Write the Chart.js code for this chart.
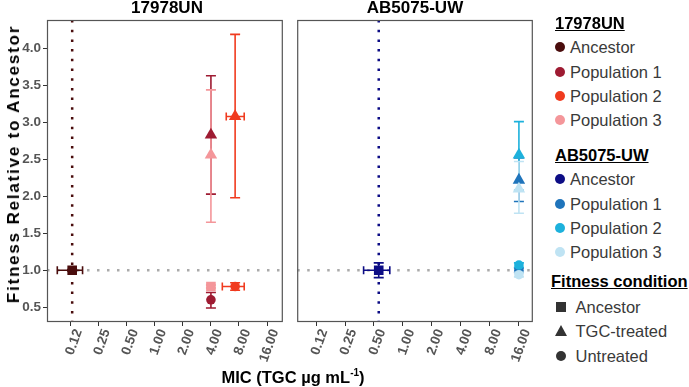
<!DOCTYPE html>
<html>
<head>
<meta charset="utf-8">
<script src="https://cdn.jsdelivr.net/npm/chart.js@4.4.1/dist/chart.umd.min.js"></script>
<style>
  body { margin: 0; background: #fff; font-family: "Liberation Sans", Arial, sans-serif; }
  #page { position: relative; width: 689px; height: 387px; overflow: hidden; background: #fff; }
  .panel { position: absolute; top: 0; height: 387px; }
  .strip { position: absolute; top: -1px; line-height: 17px; font-size: 17px; font-weight: bold; color: #000; transform: translateX(-50%); white-space: nowrap; }
  #ytitle { position: absolute; left: 14px; top: 164px; font-size: 17px; font-weight: bold; letter-spacing: 1.8px; white-space: nowrap;
            transform: translate(-50%, -50%) rotate(-90deg); }
  #xtitle { position: absolute; left: 293px; top: 377px; font-size: 16.5px; font-weight: bold; white-space: nowrap; transform: translate(-50%, -50%); }
  #xtitle sup { font-size: 10px; }
  .lg-head { position: absolute; font-size: 16.5px; font-weight: bold; text-decoration: underline; line-height: 18px; white-space: nowrap; }
  .lg-text { position: absolute; font-size: 16.5px; color: #3a3a3a; line-height: 18px; white-space: nowrap; }
  .lg-mark { position: absolute; }
</style>
</head>
<body>
<div id="page">
  <div class="panel" style="left:0;width:290px"><canvas id="left"></canvas></div>
  <div class="panel" style="left:290px;width:250px"><canvas id="right"></canvas></div>
  <div class="strip" style="left:167px">17978UN</div>
  <div class="strip" style="left:415px">AB5075-UW</div>
  <div id="ytitle">Fitness Relative to Ancestor</div>
  <div id="xtitle">MIC (TGC µg mL<sup>-1</sup>)</div>
  <div id="legend"></div>
</div>
<script>
const micTicks = [0.125, 0.25, 0.5, 1, 2, 4, 8, 16];
const micTickLabels = ['0.12', '0.25', '0.50', '1.00', '2.00', '4.00', '8.00', '16.00'];
const fitnessTicks = [0.5, 1.0, 1.5, 2.0, 2.5, 3.0, 3.5, 4.0];

const populations = ['Ancestor', 'Population 1', 'Population 2', 'Population 3'];
const conditions = ['Ancestor', 'TGC-treated', 'Untreated'];

// 17978UN  (population index, condition index, MIC with range, fitness with range)
const unPop       = [0, 1, 1, 2, 2, 3, 3];
const unCondition = [0, 1, 2, 1, 2, 1, 0];
const unMic       = [0.13, 4, 4, 7.27, 7.27, 4, 4];
const unMicLow    = [0.09, 4, 4, 5.84, 5.3, 4, 4];
const unMicHigh   = [0.168, 4, 4, 9.1, 9.1, 4, 4];
const unFitness   = [1.00, 2.83, 0.60, 3.08, 0.78, 2.56, 0.78];
const unFitLow    = [0.99, 2.03, 0.49, 1.98, 0.73, 1.65, 0.76];
const unFitHigh   = [1.01, 3.63, 0.70, 4.19, 0.83, 3.44, 0.80];

// AB5075-UW
const abPop       = [0, 1, 1, 2, 2, 3, 3];
const abCondition = [0, 1, 2, 1, 2, 1, 2];
const abMic       = [0.56, 16, 16, 16, 16, 16, 16];
const abMicLow    = [0.39, 16, 16, 16, 16, 16, 16];
const abMicHigh   = [0.73, 16, 16, 16, 16, 16, 16];
const abFitness   = [1.00, 2.22, 1.00, 2.56, 1.07, 2.10, 0.94];
const abFitLow    = [0.90, 1.93, 0.97, 2.08, 1.04, 1.77, 0.91];
const abFitHigh   = [1.10, 2.52, 1.03, 3.01, 1.10, 2.47, 0.97];

const unColors = ['#4a0d0d', '#9e1b32', '#f03b1f', '#f4969a'];
const abColors = ['#0d0d85', '#1f74bb', '#1db1dc', '#bfe3f3'];
const shapes = ['rect', 'triangle', 'circle'];
const radii = [6.8, 7.2, 4.8];

const yMin = 0.3, yMax = 4.385;

// draws error bars once, after the guide lines and before the points
const errorBars = {
  id: 'errorBars',
  beforeDraw(chart) { chart.$errDone = false; },
  beforeDatasetDraw(chart, args) {
    const ds = chart.data.datasets[args.index];
    if (!ds.err || chart.$errDone) return;
    chart.$errDone = true;
    const xs = chart.scales.x, ys = chart.scales.y, ctx = chart.ctx;
    ctx.save();
    ctx.lineWidth = 1.6;
    chart.data.datasets.forEach(d => {
      if (!d.err) return;
      const e = d.err;
      ctx.strokeStyle = d.backgroundColor;
      const px = xs.getPixelForValue(e.mic), py = ys.getPixelForValue(e.fit);
      const lo = ys.getPixelForValue(e.fitLo), hi = ys.getPixelForValue(e.fitHi);
      ctx.beginPath();
      ctx.moveTo(px, lo); ctx.lineTo(px, hi);
      ctx.moveTo(px - 5, lo); ctx.lineTo(px + 5, lo);
      ctx.moveTo(px - 5, hi); ctx.lineTo(px + 5, hi);
      if (e.micLo !== e.micHi) {
        const l = xs.getPixelForValue(e.micLo), r = xs.getPixelForValue(e.micHi);
        ctx.moveTo(l, py); ctx.lineTo(r, py);
        ctx.moveTo(l, py - 4); ctx.lineTo(l, py + 4);
        ctx.moveTo(r, py - 4); ctx.lineTo(r, py + 4);
      }
      ctx.stroke();
    });
    ctx.restore();
  }
};

const panelBorder = {
  id: 'panelBorder',
  afterDraw(chart) {
    const a = chart.chartArea, ctx = chart.ctx;
    ctx.save();
    ctx.strokeStyle = '#555';
    ctx.lineWidth = 1.2;
    ctx.strokeRect(a.left + 0.5, a.top + 0.5, a.width - 1, a.height - 1);
    ctx.restore();
  }
};

function buildPanel(id, pop, cond, mic, micLo, micHi, fit, fitLo, fitHi, colors, xMin, xMax, showY, pad) {
  const datasets = [];
  datasets.push({
    data: [{ x: xMin, y: 1 }, { x: xMax, y: 1 }], showLine: true, pointRadius: 0,
    borderColor: '#aaaaaa', borderWidth: 2.5, borderDash: [2.5, 7.5], order: 10
  });
  const anc = pop.indexOf(0);
  datasets.push({
    data: [{ x: mic[anc], y: yMax }, { x: mic[anc], y: yMin }], showLine: true, pointRadius: 0,
    borderColor: colors[0], borderWidth: 2.5, borderDash: [2.5, 7.2], order: 10
  });
  for (let i = 0; i < mic.length; i++) {
    datasets.push({
      data: [{ x: mic[i], y: fit[i] }],
      pointStyle: shapes[cond[i]], pointRadius: radii[cond[i]], pointHoverRadius: radii[cond[i]],
      backgroundColor: colors[pop[i]], borderColor: colors[pop[i]], borderWidth: 0,
      order: -pop[i],
      err: { mic: mic[i], micLo: micLo[i], micHi: micHi[i], fit: fit[i], fitLo: fitLo[i], fitHi: fitHi[i] }
    });
  }
  return new Chart(document.getElementById(id), {
    type: 'scatter',
    data: { datasets },
    plugins: [errorBars, panelBorder],
    options: {
      responsive: true, maintainAspectRatio: false, animation: false,
      events: [],
      layout: { padding: pad },
      plugins: { legend: { display: false }, tooltip: { enabled: false } },
      scales: {
        x: {
          type: 'logarithmic', min: xMin, max: xMax,
          afterBuildTicks: s => { s.ticks = micTicks.map(v => ({ value: v })); },
          afterFit: s => { s.height = 65; s.paddingLeft = 0; s.paddingRight = 0; },
          border: { display: false },
          grid: { drawOnChartArea: false, tickLength: 4, color: '#333', tickColor: '#333' },
          ticks: {
            autoSkip: false, minRotation: 70, maxRotation: 70, padding: 1, labelOffset: 8,
            color: '#555', font: { family: 'Liberation Sans', size: 13.5, weight: 'bold' },
            callback: (v, i) => micTickLabels[i]
          }
        },
        y: {
          display: showY, min: yMin, max: yMax,
          afterBuildTicks: s => { s.ticks = fitnessTicks.map(v => ({ value: v })); },
          afterFit: s => { s.width = showY ? 47 : 0; s.paddingTop = 0; s.paddingBottom = 0; },
          border: { display: false },
          grid: { drawOnChartArea: false, tickLength: 4, color: '#333', tickColor: '#333' },
          ticks: {
            padding: 2, color: '#555', font: { family: 'Liberation Sans', size: 13.5, weight: 'bold' },
            callback: v => v.toFixed(1)
          }
        }
      }
    }
  });
}

buildPanel('left', unPop, unCondition, unMic, unMicLow, unMicHigh, unFitness, unFitLow, unFitHigh,
  unColors, 0.0698, 23.6, true, { top: 20, right: 3, left: 0, bottom: 0 });
buildPanel('right', abPop, abCondition, abMic, abMicLow, abMicHigh, abFitness, abFitLow, abFitHigh,
  abColors, 0.0797, 22.3, false, { top: 20, right: 6, left: 5, bottom: 0 });

// legend
const legend = document.getElementById('legend');
function add(cls, text, x, yc) {
  const el = document.createElement('div');
  el.className = cls;
  el.textContent = text;
  el.style.left = x + 'px';
  el.style.top = (yc - 9) + 'px';
  legend.appendChild(el);
}
function mark(shape, color, xc, yc) {
  const el = document.createElement('div');
  el.className = 'lg-mark';
  if (shape === 'triangle') {
    Object.assign(el.style, { left: (xc - 6.5) + 'px', top: (yc - 6) + 'px', width: 0, height: 0,
      borderLeft: '6.5px solid transparent', borderRight: '6.5px solid transparent', borderBottom: '11px solid ' + color });
  } else {
    Object.assign(el.style, { left: (xc - 5) + 'px', top: (yc - 5) + 'px', width: '10px', height: '10px',
      background: color, borderRadius: shape === 'circle' ? '50%' : '0' });
  }
  legend.appendChild(el);
}
const rowGap = 24.2;
add('lg-head', '17978UN', 555, 22.7);
populations.forEach((p, i) => { mark('circle', unColors[i], 560, 47.3 + i * rowGap); add('lg-text', p, 570, 47.3 + i * rowGap); });
add('lg-head', 'AB5075-UW', 555, 155);
populations.forEach((p, i) => { mark('circle', abColors[i], 560, 179.3 + i * rowGap); add('lg-text', p, 570, 179.3 + i * rowGap); });
add('lg-head', 'Fitness condition', 551, 281);
conditions.forEach((c, i) => { mark(shapes[i], '#333', 561, 306.7 + i * 24.5); add('lg-text', c, 575.5, 306.7 + i * 24.5); });
</script>
</body>
</html>
